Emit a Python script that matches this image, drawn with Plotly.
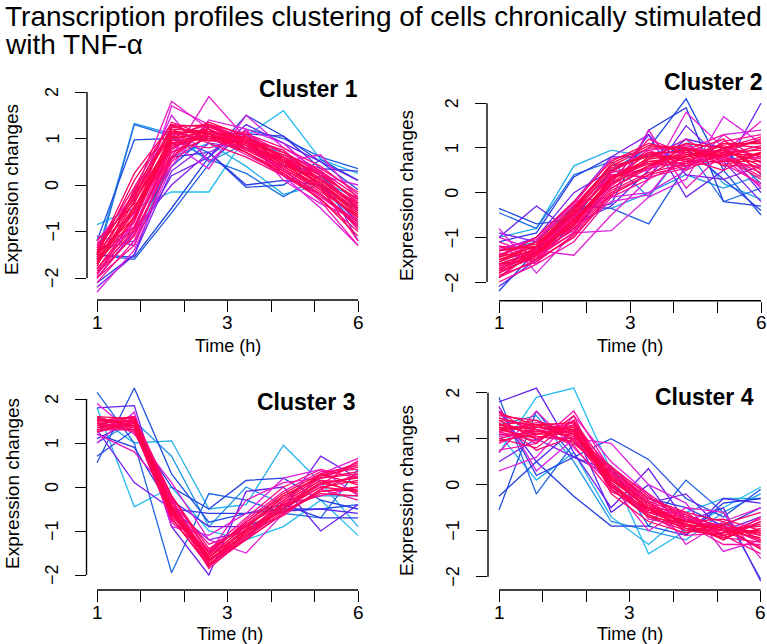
import numpy as np
import plotly.graph_objects as go
from plotly.colors import sample_colorscale

# ---------------- data ----------------
TIME_POINTS = [1, 2, 3, 4, 5, 6, 7, 8]
X_TICK_TEXT = ["1", "", "", "3", "", "", "6"]
Y_TICKS = [-2, -1, 0, 1, 2]
CLUSTER_NAMES = ["Cluster 1", "Cluster 2", "Cluster 3", "Cluster 4"]
TITLE_LINES = ["Transcription profiles clustering of cells chronically stimulated",
               "with TNF-\u03b1"]
X_LABEL = "Time (h)"
Y_LABEL = "Expression changes"

C1_PROFILES = [
    [-1.6, -0.5, 0.9, 1.1, 0.9, 0.5, 0.1, -0.5],
    [-1.8, -0.9, 0.7, 1.0, 0.95, 0.6, 0.2, -0.3],
    [-1.4, -0.2, 1.1, 1.2, 0.8, 0.4, -0.1, -0.7],
    [-1.9, -1.1, 0.6, 1.3, 1.0, 0.7, 0.3, -0.4],
    [-1.5, 0.1, 1.3, 1.0, 0.7, 0.3, -0.2, -0.8],
    [-1.7, -0.7, 1.0, 1.35, 1.05, 0.55, 0.0, -0.6],
    [-2.0, -1.3, 0.5, 1.1, 1.1, 0.8, 0.4, -0.2],
    [-1.3, -0.3, 1.2, 0.9, 0.6, 0.2, -0.2, -0.9],
    [-1.6, -0.6, 0.8, 1.2, 0.7, 0.2, -0.3, -1.0],
    [-1.2, -0.4, 1.25, 1.1, 0.85, 0.45, 0.05, -0.55],
    [-1.85, -1.0, 0.9, 0.8, 1.0, 0.6, 0.25, -0.35],
    [-1.45, 0.25, 1.3, 1.25, 0.95, 0.35, -0.15, -0.65],
    [-2.1, -1.2, 0.7, 1.15, 0.9, 0.45, 0.15, -0.45],
    [-1.55, -0.8, 1.05, 1.3, 0.75, 0.6, -0.05, -1.2],
    [-1.75, -0.1, 1.15, 0.95, 1.15, 0.5, 0.3, -0.25],
    [-1.35, -0.9, 0.95, 1.05, 0.65, 0.25, -0.25, -0.85],
    [-1.65, -0.45, 0.6, 1.25, 1.0, 0.75, 0.1, -0.5],
    [-1.95, -0.65, 1.1, 1.0, 0.8, 0.35, -0.35, -1.3],
    [-1.5, -0.35, 1.0, 1.15, 1.0, 0.5, 0.05, -0.6],
    [-1.7, -0.55, 0.85, 1.05, 0.85, 0.4, -0.05, -0.7],
    [-1.55, -0.25, 1.2, 1.15, 0.95, 0.45, -0.05, -0.75],
    [-1.8, -0.75, 0.95, 1.2, 0.85, 0.55, 0.15, -0.45],
    [-1.35, -0.05, 1.35, 1.05, 0.8, 0.3, -0.2, -0.85],
    [-1.65, -0.5, 1.05, 0.95, 0.9, 0.65, 0.2, -0.3],
    [-1.25, -0.6, 0.75, 1.3, 1.1, 0.7, 0.25, -0.55],
    [-1.9, -0.95, 0.8, 1.1, 0.75, 0.35, -0.1, -0.95],
    [-1.45, -0.15, 1.25, 1.3, 0.9, 0.5, 0.0, -0.65],
    [-1.7, -0.35, 0.9, 1.0, 1.05, 0.6, 0.1, -0.4],
    [-2.0, -1.05, 0.55, 1.25, 0.95, 0.65, 0.35, -0.15],
    [-1.5, -0.7, 1.15, 1.1, 0.7, 0.25, -0.3, -1.1],
    [-1.2, -0.2, 1.8, 1.2, 0.9, 0.3, -0.2, -0.9],
    [-1.9, -0.8, 1.7, 1.3, 1.0, 0.1, -0.4, -0.75],
    [-1.1, -1.3, 0.9, 0.35, 1.5, 0.8, 0.3, -0.4],
    [-1.6, -0.9, 0.6, 1.9, 1.0, 0.5, 0.65, -0.3],
    [-2.3, -1.4, 0.4, 1.4, 1.2, 0.2, -0.5, -1.3],
    [-1.3, -0.3, 1.5, 0.5, 1.2, 0.9, 0.2, 0.0],
    [-2.2, -1.5, 0.3, 0.9, 0.8, 0.6, 0.0, -0.8],
    [-1.4, -1.2, 0.2, 0.6, 1.3, 0.9, 0.5, 0.1],
    [-2.0, -1.0, 0.0, 0.7, 1.1, 0.4, 0.3, -1.2],
    [-1.5, -1.55, -0.5, 0.6, 1.5, 1.05, 0.5, -0.1],
    [-1.5, -1.6, -0.6, 0.45, 1.2, 1.0, 0.6, 0.35],
    [-1.2, 0.97, 1.0, 0.7, -0.05, 0.0, 0.55, 0.1],
    [-1.6, 1.3, 1.05, 0.55, 0.25, -0.25, 0.2, -0.5],
    [-2.1, -1.5, 0.6, 0.7, 0.0, 0.1, 0.0, -0.55],
    [-1.4, -1.0, 0.4, 1.1, 1.1, 1.05, 0.35, 0.3],
    [-1.5, 1.32, 1.1, 0.5, 0.9, 0.7, 0.1, -0.3],
    [-0.85, -0.5, -0.15, -0.15, 1.05, 1.6, 0.55, 0.25],
    [-1.1, -1.3, 0.6, 0.9, 0.4, -0.2, 0.0, -0.9],
]
C1_MEMBERSHIP = [0.97, 0.95, 0.96, 0.93, 0.94, 0.98, 0.9, 0.92, 0.91, 0.95, 0.89, 0.93,
                 0.88, 0.9, 0.92, 0.87, 0.94, 0.86, 0.99, 0.97,
                 0.96, 0.94, 0.92, 0.98, 0.9, 0.93, 0.97, 0.95, 0.91, 0.99,
                 0.84, 0.82, 0.8, 0.83, 0.81, 0.79,
                 0.68, 0.66, 0.7,
                 0.56, 0.54, 0.55, 0.52, 0.58, 0.6,
                 0.48, 0.42, 0.44]

C2_PROFILES = [
    [-1.5, -1.3, -0.6, 0.3, 0.7, 0.8, 0.9, 0.7],
    [-1.7, -1.4, -0.8, 0.1, 0.6, 0.9, 0.8, 1.0],
    [-1.3, -1.2, -0.4, 0.5, 0.9, 0.7, 1.0, 0.5],
    [-1.9, -1.5, -1.0, 0.0, 0.4, 0.6, 0.7, 0.9],
    [-1.4, -1.1, -0.3, 0.6, 1.0, 1.0, 0.8, 0.3],
    [-1.6, -1.35, -0.7, 0.2, 0.8, 0.8, 1.1, 1.1],
    [-1.8, -1.25, -0.5, 0.4, 0.5, 1.1, 0.6, 0.6],
    [-1.2, -1.45, -0.9, 0.3, 0.9, 0.5, 0.9, 1.2],
    [-2.0, -1.6, -1.1, -0.1, 0.3, 0.7, 0.7, 0.8],
    [-1.45, -1.0, -0.2, 0.7, 1.1, 0.9, 1.2, 0.4],
    [-1.65, -1.3, -0.55, 0.45, 0.65, 0.6, 1.0, 1.25],
    [-1.35, -1.5, -0.75, 0.15, 0.75, 1.2, 0.65, 0.2],
    [-1.75, -1.2, -0.35, 0.55, 0.85, 0.75, 0.5, 0.9],
    [-1.55, -1.1, -0.65, 0.25, 1.2, 0.85, 0.95, 0.75],
    [-1.1, -1.4, -0.45, 0.35, 0.55, 0.95, 1.3, 0.65],
    [-1.85, -1.55, -0.95, 0.05, 0.45, 0.65, 0.85, 1.05],
    [-1.25, -1.05, -0.25, 0.75, 0.95, 1.05, 0.75, 0.15],
    [-1.6, -1.3, -0.85, 0.4, 0.35, 0.55, 1.15, 1.3],
    [-1.5, -1.2, -0.5, 0.35, 0.75, 0.85, 0.85, 0.85],
    [-1.7, -1.35, -0.6, 0.2, 0.6, 0.75, 0.95, 0.6],
    [-1.55, -1.25, -0.45, 0.5, 0.85, 0.95, 0.9, 0.95],
    [-1.4, -1.35, -0.7, 0.3, 0.65, 0.8, 1.05, 0.8],
    [-1.75, -1.45, -0.6, 0.25, 0.9, 0.9, 0.75, 0.55],
    [-1.3, -1.15, -0.35, 0.6, 0.8, 1.1, 1.0, 1.15],
    [-1.65, -1.4, -0.9, 0.1, 0.55, 0.7, 0.8, 0.45],
    [-1.9, -1.3, -0.75, 0.35, 0.7, 0.65, 1.1, 1.0],
    [-1.45, -1.2, -0.4, 0.65, 1.05, 1.0, 0.7, 0.7],
    [-1.6, -1.5, -1.0, -0.05, 0.4, 0.85, 0.95, 1.2],
    [-1.2, -1.25, -0.55, 0.45, 0.95, 0.6, 0.85, 0.35],
    [-1.8, -1.4, -0.65, 0.2, 0.6, 1.0, 0.6, 0.9],
    [-1.0, -1.3, -1.4, -0.5, 0.3, 1.8, 1.0, 0.8],
    [-0.8, -1.8, -0.9, -0.85, -0.1, 0.3, 1.7, 1.1],
    [-1.4, -1.0, -0.2, -0.1, 1.4, 0.1, 0.9, 1.6],
    [-1.2, -1.6, -0.5, -0.1, 0.0, 0.5, 1.3, 1.4],
    [-1.9, -1.2, -0.8, -0.2, -0.05, 1.0, 0.9, 0.1],
    [-1.0, -0.3, -0.9, 0.2, 1.3, -0.1, 0.5, 2.0],
    [-1.3, -1.0, 0.0, 0.5, 0.3, 1.5, 0.7, -0.2],
    [-2.1, -1.5, -0.7, -0.3, 0.5, 1.2, 1.0, 0.0],
    [-0.9, -1.1, -0.2, 0.8, 1.3, 0.4, 0.3, 0.6],
    [-0.35, -0.7, -0.6, 0.5, 1.0, 2.1, 0.5, -0.5],
    [-0.45, -0.8, 0.4, 0.7, -0.1, 1.0, -0.2, 0.1],
    [-2.2, -1.3, -0.4, -0.25, 1.4, 1.9, -0.2, -0.3],
    [-1.1, -0.9, 0.35, 0.8, 0.8, 1.0, 0.3, -0.4],
    [-1.6, -1.3, -0.3, -0.35, -0.7, 0.6, 1.0, 0.2],
    [-1.0, -0.8, 0.6, 0.95, 0.8, 1.2, 0.2, -0.15],
    [-1.3, -1.1, -0.3, -0.35, 0.0, 0.4, 0.1, 0.4],
]
C2_MEMBERSHIP = [0.97, 0.95, 0.96, 0.93, 0.94, 0.98, 0.9, 0.92, 0.89, 0.95, 0.91, 0.88,
                 0.93, 0.9, 0.87, 0.92, 0.86, 0.89, 0.99, 0.96,
                 0.96, 0.94, 0.92, 0.98, 0.9, 0.93, 0.97, 0.95, 0.91, 0.99,
                 0.82, 0.8, 0.84, 0.79, 0.81,
                 0.66, 0.68, 0.64, 0.7,
                 0.55, 0.52, 0.57, 0.58, 0.54,
                 0.44, 0.48]

C3_PROFILES = [
    [1.45, 1.5, -0.4, -1.6, -1.0, -0.4, 0.1, 0.2],
    [1.3, 1.4, -0.6, -1.75, -1.1, -0.5, 0.0, -0.1],
    [1.5, 1.6, -0.2, -1.4, -0.9, -0.3, 0.3, 0.5],
    [1.4, 1.3, -0.7, -1.8, -1.2, -0.6, -0.1, 0.0],
    [1.55, 1.45, -0.5, -1.5, -0.8, -0.2, 0.2, 0.3],
    [1.35, 1.55, -0.3, -1.65, -1.05, -0.45, 0.05, 0.6],
    [1.6, 1.35, -0.55, -1.7, -0.95, -0.55, -0.15, -0.2],
    [1.25, 1.5, -0.8, -1.55, -0.75, -0.1, 0.35, 0.4],
    [1.45, 1.25, -0.45, -1.85, -1.15, -0.35, 0.15, 0.1],
    [1.5, 1.6, -0.35, -1.3, -1.0, -0.65, -0.05, -0.3],
    [1.4, 1.45, -0.65, -1.6, -0.85, -0.25, 0.25, 0.55],
    [1.3, 1.55, -0.25, -1.75, -1.2, -0.4, -0.2, 0.0],
    [1.55, 1.3, -0.75, -1.45, -0.7, 0.0, 0.4, 0.2],
    [1.35, 1.4, -0.5, -1.65, -1.1, -0.5, 0.1, -0.1],
    [1.5, 1.5, -0.45, -1.7, -1.05, -0.45, 0.0, 0.15],
    [1.35, 1.45, -0.55, -1.55, -0.9, -0.3, 0.2, 0.35],
    [1.45, 1.35, -0.3, -1.75, -1.15, -0.55, -0.1, -0.05],
    [1.6, 1.55, -0.6, -1.6, -0.95, -0.2, 0.25, 0.45],
    [1.3, 1.3, -0.4, -1.45, -0.85, -0.4, 0.05, 0.25],
    [1.4, 1.6, -0.7, -1.8, -1.0, -0.35, 0.15, -0.15],
    [1.55, 1.4, -0.2, -1.5, -0.8, -0.15, 0.3, 0.05],
    [1.25, 1.45, -0.5, -1.65, -1.2, -0.6, -0.05, 0.3],
    [1.9, 1.2, 0.1, -1.2, -1.5, -0.6, 0.3, 0.65],
    [1.0, 1.7, -0.9, -1.1, -0.6, 0.2, 0.4, -0.2],
    [1.2, 0.8, -0.2, -1.5, -0.3, 0.1, 0.2, 0.5],
    [1.8, 1.85, -0.9, -2.0, -0.1, 0.0, -1.0, -0.4],
    [1.3, 0.1, -0.5, -1.2, -1.0, -0.5, 0.7, 0.2],
    [1.1, 1.5, -0.3, -0.9, -0.9, -0.55, -0.5, -0.6],
    [0.55, 2.25, 0.3, -0.8, -0.6, -0.5, -0.5, -0.4],
    [2.15, 1.0, -1.95, -0.15, -0.3, -0.6, -0.7, 0.4],
    [0.7, 1.3, 0.0, -0.5, 0.15, 0.2, -0.3, -0.5],
    [1.2, 0.9, -0.5, -0.6, -0.6, -0.4, -0.7, -0.7],
    [1.8, -0.45, 0.0, -1.0, -1.2, -0.9, -0.3, -1.1],
    [1.6, 1.0, 1.05, -0.5, -0.4, 0.95, 0.1, -0.9],
    [1.0, 1.5, 0.7, -0.9, 0.0, -0.4, -0.2, -0.2],
]
C3_MEMBERSHIP = [0.97, 0.95, 0.93, 0.96, 0.92, 0.9, 0.94, 0.88, 0.91, 0.89, 0.93, 0.87,
                 0.9, 0.98,
                 0.96, 0.94, 0.92, 0.99, 0.9, 0.95, 0.97, 0.93,
                 0.82, 0.8, 0.84,
                 0.66, 0.68, 0.64,
                 0.55, 0.53, 0.57, 0.58,
                 0.42, 0.44, 0.48]

C4_PROFILES = [
    [1.2, 1.0, 1.2, 0.1, -0.5, -0.8, -1.0, -1.0],
    [1.4, 1.3, 1.0, 0.3, -0.3, -0.6, -0.8, -1.2],
    [1.0, 0.8, 1.4, -0.1, -0.7, -1.0, -1.1, -0.8],
    [1.3, 1.2, 0.9, 0.2, -0.4, -0.9, -0.9, -1.4],
    [1.5, 1.4, 1.1, 0.0, -0.6, -0.7, -1.2, -0.7],
    [1.1, 1.1, 1.3, 0.35, -0.2, -0.75, -0.95, -1.1],
    [1.25, 0.9, 1.5, -0.2, -0.8, -1.05, -0.85, -0.6],
    [0.9, 1.25, 1.15, 0.15, -0.45, -0.85, -1.3, -1.3],
    [1.6, 1.05, 0.95, 0.25, -0.35, -0.95, -1.0, -0.9],
    [1.15, 1.35, 1.25, -0.05, -0.55, -0.65, -1.1, -1.5],
    [1.35, 0.75, 1.05, 0.4, -0.25, -0.8, -0.75, -1.0],
    [1.05, 1.15, 1.35, 0.05, -0.65, -1.1, -1.05, -0.75],
    [1.45, 1.2, 0.85, -0.15, -0.5, -0.6, -1.15, -1.25],
    [0.75, 0.9, 1.6, 0.3, -0.75, -0.9, -0.9, -1.05],
    [1.3, 1.1, 1.1, 0.15, -0.5, -0.85, -1.0, -1.15],
    [1.2, 1.25, 1.2, 0.0, -0.55, -0.8, -0.95, -0.9],
    [1.25, 1.15, 1.15, 0.2, -0.45, -0.8, -0.95, -1.05],
    [1.4, 1.0, 1.3, 0.05, -0.6, -0.9, -1.05, -0.85],
    [1.0, 1.2, 1.05, 0.3, -0.35, -0.7, -0.9, -1.25],
    [1.55, 1.3, 1.2, -0.1, -0.65, -0.95, -1.15, -0.95],
    [1.15, 0.95, 1.4, 0.25, -0.4, -0.75, -1.0, -1.35],
    [1.3, 1.4, 0.95, 0.1, -0.5, -1.0, -0.85, -1.1],
    [0.95, 1.1, 1.25, 0.0, -0.7, -0.85, -1.2, -0.8],
    [1.45, 1.25, 1.1, 0.35, -0.3, -0.65, -0.95, -1.2],
    [1.2, 1.3, 1.35, 0.15, -0.55, -0.9, -1.1, -1.0],
    [1.1, 1.05, 1.0, -0.05, -0.6, -0.8, -0.9, -1.4],
    [0.3, 0.6, 1.5, 0.5, -0.2, -1.3, -0.8, -0.5],
    [1.7, 0.3, 1.0, 0.9, 0.0, -0.4, -1.45, -1.2],
    [0.7, 1.6, 0.8, 0.0, -1.0, -0.5, -0.6, -1.6],
    [1.8, 2.1, 0.7, -0.5, 0.35, -0.8, -0.5, -2.1],
    [0.5, 1.0, 0.6, 0.2, -0.4, -0.2, -1.0, -0.7],
    [1.6, 0.5, 1.2, -0.6, 0.0, -1.1, -0.3, -0.4],
    [-0.55, 1.6, 0.6, 1.0, 0.55, -0.3, -0.7, -0.1],
    [1.9, -0.2, 0.9, 0.4, -0.9, 0.1, -0.6, -2.05],
    [-0.25, 0.5, -0.25, -0.9, -0.9, -1.1, -0.4, -0.3],
    [1.7, 0.2, 0.6, 0.3, -0.3, -0.5, -0.9, -0.5],
    [0.7, 1.9, 2.1, 0.3, -1.5, -1.0, -0.5, -0.05],
    [1.1, 0.1, 0.7, -0.7, -1.3, -0.6, -0.3, -0.3],
    [1.3, 1.5, 0.5, -0.8, -1.0, -1.2, -0.6, -0.2],
]
C4_MEMBERSHIP = [0.97, 0.95, 0.93, 0.96, 0.92, 0.9, 0.94, 0.88, 0.91, 0.89, 0.93, 0.87,
                 0.9, 0.86, 0.98, 0.96,
                 0.96, 0.94, 0.92, 0.99, 0.9, 0.95, 0.97, 0.93, 0.98, 0.91,
                 0.82, 0.8, 0.84,
                 0.66, 0.68, 0.64,
                 0.55, 0.53, 0.57, 0.58,
                 0.42, 0.44, 0.48]

ALL_PROFILES = [C1_PROFILES, C2_PROFILES, C3_PROFILES, C4_PROFILES]
ALL_MEMBERSHIP = [C1_MEMBERSHIP, C2_MEMBERSHIP, C3_MEMBERSHIP, C4_MEMBERSHIP]

# ---------------- style / layout ----------------
W, H = 767, 644
FONT = "Liberation Sans, Arial, Helvetica, sans-serif"
MEMBERSHIP_SCALE = [[0.0, "#22C8F2"], [0.15, "#2090E8"], [0.28, "#2040E0"],
                    [0.42, "#6020F0"], [0.55, "#A020F0"], [0.68, "#E020E0"],
                    [0.8, "#FF10A0"], [0.9, "#FF0060"], [1.0, "#FF0040"]]
M_LOW, M_HIGH = 0.4, 1.0

# pixel geometry of each panel: y-axis x, x=1 px, x=8 px, right edge, y=2 px, y=-2 px, top, bottom
PANEL_PX = [
    dict(ax=87, x1=97, x8=358, right=368, y2=92, ym2=278, top=89, bottom=300),
    dict(ax=487, x1=499, x8=761, right=767, y2=103.3, ym2=282, top=90, bottom=300.7),
    dict(ax=86.5, x1=97, x8=358, right=368, y2=399, ym2=575, top=380, bottom=590),
    dict(ax=488, x1=499, x8=760.7, right=767, y2=392.7, ym2=576.7, top=377, bottom=590),
]
TITLE_POS = [(360, 89), (764, 82), (357, 402), (756, 397)]
YLAB_POS = [(12, 190), (406, 195), (12, 484), (406, 490)]
XLAB_POS = [(228, 346), (630, 346), (230, 634), (630, 634)]
YTICKLAB_X = [52, 452, 52, 453]
XTICKLAB_DY = 22  # px below the x-axis line

fig = go.Figure()
layout = dict(width=W, height=H, margin=dict(l=0, r=0, t=0, b=0),
              paper_bgcolor="white", plot_bgcolor="white", showlegend=False,
              font=dict(family=FONT, color="black"))
shapes, annotations = [], []
tick_pos = list(np.linspace(TIME_POINTS[0], TIME_POINTS[-1], len(X_TICK_TEXT)))

for i, p in enumerate(PANEL_PX):
    n = i + 1
    xa = "x" if n == 1 else f"x{n}"
    ya = "y" if n == 1 else f"y{n}"
    xs = (p["x8"] - p["x1"]) / 7.0
    ys = (p["ym2"] - p["y2"]) / 4.0
    xr = [1 - (p["x1"] - p["ax"]) / xs, 8 + (p["right"] - p["x8"]) / xs]
    yr = [-2 - (p["bottom"] - p["ym2"]) / ys, 2 + (p["y2"] - p["top"]) / ys]
    layout["xaxis" if n == 1 else f"xaxis{n}"] = dict(
        domain=[p["ax"] / W, min(p["right"] / W, 1.0)], range=xr, anchor=ya,
        showgrid=False, zeroline=False, showline=False, showticklabels=False,
        tickvals=tick_pos, ticks="outside", ticklen=11, tickwidth=1.4,
        tickcolor="black", fixedrange=True)
    layout["yaxis" if n == 1 else f"yaxis{n}"] = dict(
        domain=[1 - p["bottom"] / H, 1 - p["top"] / H], range=yr, anchor=xa,
        showgrid=False, zeroline=False, showline=False, showticklabels=False,
        tickvals=Y_TICKS, ticks="outside", ticklen=11, tickwidth=1.4,
        tickcolor="black", fixedrange=True)
    # R-style axis lines spanning only the tick range
    shapes.append(dict(type="line", xref=f"{xa} domain", yref=ya, x0=0, x1=0,
                       y0=Y_TICKS[0], y1=Y_TICKS[-1], line=dict(color="black", width=1.4)))
    shapes.append(dict(type="line", xref=xa, yref=f"{ya} domain",
                       x0=TIME_POINTS[0], x1=TIME_POINTS[-1], y0=0, y1=0,
                       line=dict(color="black", width=1.4)))

    # tick labels (R style: rotated y labels)
    for v in Y_TICKS:
        annotations.append(dict(text=f"{v}".replace("-", "\u2212"), x=YTICKLAB_X[i] / W, y=v,
                                xref="paper", yref=ya, xanchor="center", yanchor="middle",
                                textangle=-90, showarrow=False,
                                font=dict(size=18, family=FONT)))
    for tv, tt in zip(tick_pos, X_TICK_TEXT):
        if tt:
            annotations.append(dict(text=tt, x=tv, y=1 - (p["bottom"] + XTICKLAB_DY) / H,
                                    xref=xa, yref="paper", xanchor="center", yanchor="middle",
                                    showarrow=False, font=dict(size=19, family=FONT)))

    profs = ALL_PROFILES[i]
    mems = ALL_MEMBERSHIP[i]
    order = np.argsort(mems, kind="stable")
    cols = sample_colorscale(MEMBERSHIP_SCALE,
                             [(mems[k] - M_LOW) / (M_HIGH - M_LOW) for k in order])
    for k, c in zip(order, cols):
        fig.add_trace(go.Scatter(x=TIME_POINTS, y=profs[k], mode="lines",
                                 line=dict(color=c, width=1.3),
                                 xaxis=xa, yaxis=ya, hoverinfo="skip"))

    tx, ty = TITLE_POS[i]
    annotations.append(dict(text=f"<b>{CLUSTER_NAMES[i]}</b>", x=tx / W, y=1 - ty / H,
                            xref="paper", yref="paper", xanchor="right", yanchor="middle",
                            showarrow=False, font=dict(size=23, family=FONT)))
    lx, ly = YLAB_POS[i]
    annotations.append(dict(text=Y_LABEL, x=lx / W, y=1 - ly / H, xref="paper", yref="paper",
                            xanchor="center", yanchor="middle", textangle=-90,
                            showarrow=False, font=dict(size=19, family=FONT)))
    bx, by = XLAB_POS[i]
    annotations.append(dict(text=X_LABEL, x=bx / W, y=1 - by / H, xref="paper", yref="paper",
                            xanchor="center", yanchor="middle",
                            showarrow=False, font=dict(size=18, family=FONT)))

annotations.append(dict(text=TITLE_LINES[0], x=3 / W, y=1 - 16 / H, xref="paper", yref="paper",
                        xanchor="left", yanchor="middle", showarrow=False,
                        font=dict(size=28, family=FONT)))
annotations.append(dict(text=TITLE_LINES[1], x=3 / W, y=1 - 44 / H, xref="paper", yref="paper",
                        xanchor="left", yanchor="middle", showarrow=False,
                        font=dict(size=28, family=FONT)))

layout["shapes"] = shapes
layout["annotations"] = annotations
fig.update_layout(**layout)
fig.write_html("out.html", config={"displayModeBar": False},
               post_script="document.body.style.margin='0px';document.body.style.overflow='hidden';")
